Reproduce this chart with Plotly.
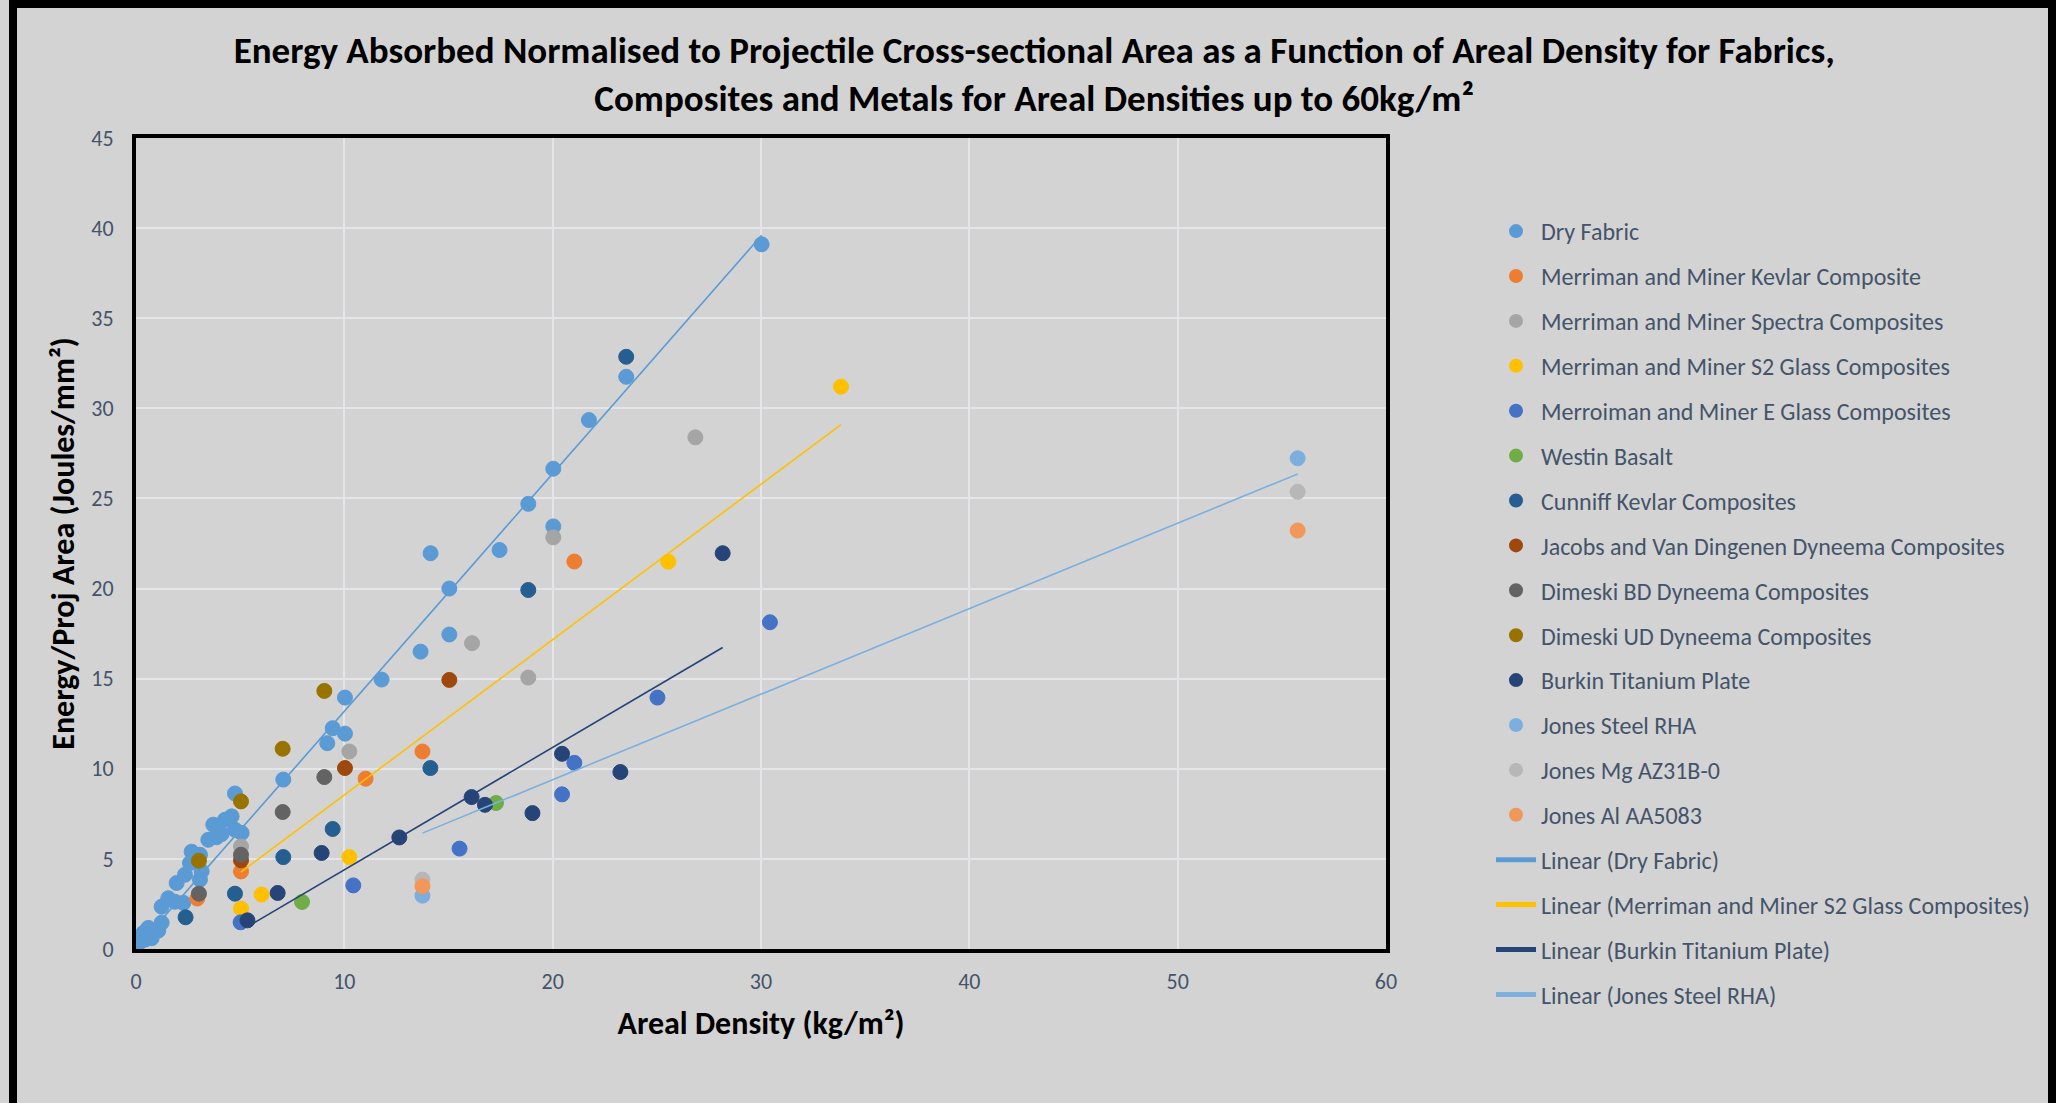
import plotly.graph_objects as go

# ---------------- data ----------------
dry_x = [30.03, 23.53, 21.74, 20.03, 18.83, 20.03, 14.14, 17.45, 15.04, 15.04, 13.66, 11.79,
         10.03, 9.44, 10.03, 9.18, 7.07, 4.75, 4.59, 4.27, 5.07, 4.75, 3.71, 3.47, 3.87, 4.11,
         2.67, 3.07, 2.59, 3.15, 2.35, 3.07, 1.95, 2.27, 1.87, 1.55, 1.23, 1.23, 1.07, 0.59,
         0.75, 0.35, 0.19, 0.11, 0.43]
dry_y = [39.1, 31.75, 29.35, 26.65, 24.7, 23.45, 21.96, 22.14, 20.0, 17.45, 16.5, 14.95,
         13.95, 12.25, 11.95, 11.42, 9.4, 8.63, 7.36, 7.17, 6.44, 6.62, 6.9, 6.06, 6.2, 6.38,
         5.4, 5.23, 4.77, 4.31, 4.12, 3.85, 3.66, 2.56, 2.62, 2.82, 2.35, 1.46, 1.02, 1.17,
         0.6, 0.89, 0.52, 0.3, 0.52]

kev_x = [2.94, 5.04, 11.02, 13.75, 21.04]
kev_y = [2.8, 4.3, 9.45, 10.96, 21.5]

spec_x = [5.04, 10.24, 16.13, 18.83, 20.03, 26.85]
spec_y = [5.69, 10.96, 16.97, 15.06, 22.84, 28.39]

s2_x = [5.04, 6.03, 10.24, 25.55, 33.84]
s2_y = [2.24, 3.02, 5.1, 21.49, 31.2]

eg_x = [5.02, 10.43, 15.53, 20.45, 21.04, 25.03, 30.43]
eg_y = [1.48, 3.53, 5.57, 8.58, 10.33, 13.95, 18.13]

bas_x = [7.97, 17.28]
bas_y = [2.61, 8.1]

cun_x = [2.38, 4.75, 7.07, 9.44, 14.13, 18.83, 23.53]
cun_y = [1.76, 3.07, 5.1, 6.66, 10.04, 19.92, 32.86]

jac_x = [5.04, 10.03, 15.04]
jac_y = [4.92, 10.04, 14.93]

dbd_x = [3.02, 5.04, 7.04, 9.04]
dbd_y = [3.07, 5.23, 7.6, 9.54]

dud_x = [3.02, 5.04, 7.04, 9.04]
dud_y = [4.9, 8.19, 11.11, 14.32]

bur_x = [5.35, 6.8, 8.91, 12.64, 16.11, 16.75, 19.03, 20.45, 23.25, 28.16]
bur_y = [1.59, 3.11, 5.33, 6.19, 8.43, 8.0, 7.54, 10.83, 9.82, 21.96]

rha_x = [13.75, 55.76]
rha_y = [2.96, 27.23]

mg_x = [13.75, 55.76]
mg_y = [3.85, 25.37]

al_x = [13.75, 55.76]
al_y = [3.48, 23.22]

# trend-line end points as drawn in the reference
tr_dry_x = [0.11, 30.03]
tr_dry_y = [0.15, 39.6]
tr_s2_x = [5.04, 33.84]
tr_s2_y = [4.27, 29.1]
tr_bur_x = [5.39, 28.16]
tr_bur_y = [1.26, 16.73]
tr_rha_x = [13.75, 55.76]
tr_rha_y = [6.43, 26.36]

series = [
    ("Dry Fabric", dry_x, dry_y, "#5B9BD5"),
    ("Merriman and Miner Kevlar Composite", kev_x, kev_y, "#ED7D31"),
    ("Merriman and Miner Spectra Composites", spec_x, spec_y, "#A5A5A5"),
    ("Merriman and Miner S2 Glass Composites", s2_x, s2_y, "#FFC000"),
    ("Merroiman and Miner E Glass Composites", eg_x, eg_y, "#4472C4"),
    ("Westin Basalt", bas_x, bas_y, "#70AD47"),
    ("Cunniff Kevlar Composites", cun_x, cun_y, "#255E91"),
    ("Jacobs and Van Dingenen Dyneema Composites", jac_x, jac_y, "#9E480E"),
    ("Dimeski BD Dyneema Composites", dbd_x, dbd_y, "#636363"),
    ("Dimeski UD Dyneema Composites", dud_x, dud_y, "#997300"),
    ("Burkin Titanium Plate", bur_x, bur_y, "#264478"),
    ("Jones Steel RHA", rha_x, rha_y, "#7CAFDD"),
    ("Jones Mg AZ31B-0", mg_x, mg_y, "#B7B7B7"),
    ("Jones Al AA5083", al_x, al_y, "#F1975A"),
]
trends = [
    ("Linear (Dry Fabric)", tr_dry_x, tr_dry_y, "#5B9BD5"),
    ("Linear (Merriman and Miner S2 Glass Composites)", tr_s2_x, tr_s2_y, "#FFC000"),
    ("Linear (Burkin Titanium Plate)", tr_bur_x, tr_bur_y, "#264478"),
    ("Linear (Jones Steel RHA)", tr_rha_x, tr_rha_y, "#7CAFDD"),
]

FONT = "Carlito, Lato, sans-serif"
TXT = "#44546A"

fig = go.Figure()
for i, (name, xs, ys, col) in enumerate(series):
    fig.add_trace(go.Scatter(
        x=xs, y=ys, mode="markers", name=name, legendgroup=f"g{i}",
        marker=dict(size=15, color=col, line=dict(width=1, color=col)),
    ))
for j, (name, xs, ys, col) in enumerate(trends):
    fig.add_trace(go.Scatter(
        x=xs, y=ys, mode="lines", name=name, legendgroup=f"t{j}",
        line=dict(color=col, width=1.6),
    ))

L, R, T, B = 136, 670, 138, 154
PW, PH = 2056 - L - R, 1103 - T - B

def px_x(p):
    return (p - L) / PW

def px_y(p):
    return (1103 - B - p) / PH

fig.update_layout(
    width=2056, height=1103,
    margin=dict(l=L, r=R, t=T, b=B, pad=0),
    paper_bgcolor="#D3D3D3", plot_bgcolor="#D3D3D3",
    font=dict(family=FONT, color=TXT, size=20),
    title=dict(
        text="Energy Absorbed Normalised to Projectile Cross-sectional Area as a Function of Areal Density for Fabrics,<br>"
             "Composites and Metals for Areal Densities up to 60kg/m²",
        x=0.503, xanchor="center", y=1 - 63 / 1103, yanchor="middle",
        font=dict(family=FONT, size=37, color="black", weight="bold"),
    ),
    xaxis=dict(
        range=[0, 60], dtick=10, tick0=0,
        showgrid=True, gridcolor="#E4E5E8", gridwidth=2, zeroline=False,
        showline=True, linecolor="black", linewidth=4, mirror=True,
        ticks="", ticklabelstandoff=10,
        tickfont=dict(size=22, color=TXT, family=FONT),
        title=dict(text="Areal Density (kg/m²)", standoff=18,
                   font=dict(size=32, color="black", family=FONT, weight="bold")),
    ),
    yaxis=dict(
        range=[0, 45], dtick=5, tick0=0,
        showgrid=True, gridcolor="#E4E5E8", gridwidth=2, zeroline=False,
        showline=True, linecolor="black", linewidth=4, mirror=True,
        ticks="", ticklabelstandoff=14,
        tickfont=dict(size=22, color=TXT, family=FONT),
        title=dict(text="Energy/Proj Area (Joules/mm²)", standoff=8,
                   font=dict(size=32, color="black", family=FONT, weight="bold")),
    ),
    legend=dict(
        x=px_x(1491), xanchor="left", y=px_y(209), yanchor="top",
        bgcolor="rgba(0,0,0,0)", font=dict(size=24, color=TXT, family=FONT),
        tracegroupgap=10.7, itemsizing="constant", itemwidth=40, maxheight=1000,
    ),
    shapes=[dict(type="rect", xref="paper", yref="paper",
                 x0=px_x(13), x1=px_x(2052), y0=px_y(1115), y1=px_y(4),
                 line=dict(color="black", width=8), fillcolor="rgba(0,0,0,0)",
                 layer="above")],
    showlegend=True,
)

fig.write_html("out.html", config={"displayModeBar": False},
               post_script="document.body.style.margin='0';document.body.style.overflow='hidden';")
